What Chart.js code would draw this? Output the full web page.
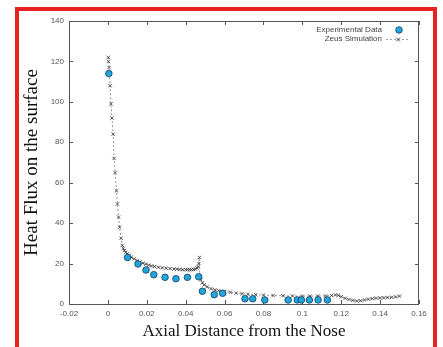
<!DOCTYPE html>
<html>
<head>
<meta charset="utf-8">
<script src="https://cdn.jsdelivr.net/npm/chart.js@4/dist/chart.umd.min.js"></script>
<style>
  html, body { margin: 0; padding: 0; background: #fff; overflow: hidden; }
  #frame {
    position: absolute; left: 15px; top: 7px; width: 422px; height: 400px;
    box-sizing: border-box; border: 4px solid #e8221e;
  }
  #c { position: absolute; left: 0; top: 0; }
</style>
</head>
<body>
<div id="frame"></div>
<canvas id="c" width="443" height="347"></canvas>
<script>
// Experimental data (circles)
const expX = [0.0005, 0.0101, 0.0155, 0.0196, 0.0236, 0.0294, 0.0350, 0.0409, 0.0467, 0.0486, 0.0547,
              0.0590, 0.0705, 0.0745, 0.0807, 0.0927, 0.0974, 0.0995, 0.1036, 0.1081, 0.1129];
const expY = [114, 23, 19.8, 16.8, 14.5, 13.2, 12.5, 13.2, 13.5, 6.3, 4.6,
              5.3, 2.6, 2.6, 2, 2, 2, 2, 2, 2, 2];

// Zeus simulation (dashed line with x markers)
const simX = [0.0002, 0.0003, 0.0006, 0.0011, 0.0016, 0.0021, 0.0027, 0.0032, 0.0037, 0.0044, 0.0049,
              0.0055, 0.0060, 0.0068, 0.0074, 0.0079, 0.0085, 0.0092, 0.0100, 0.0110, 0.0120, 0.0135,
              0.0150, 0.0165, 0.0180, 0.0195, 0.0210, 0.0225, 0.0240, 0.0260, 0.0280, 0.0300, 0.0320,
              0.0340, 0.0355, 0.0370, 0.0385, 0.0400, 0.0410, 0.0420, 0.0430, 0.0440, 0.0450, 0.0458,
              0.0464, 0.0468, 0.0470, 0.0472, 0.0478, 0.0486, 0.0495, 0.0510, 0.0530, 0.0550, 0.0570,
              0.0600, 0.0630, 0.0660, 0.0690, 0.0720, 0.0760, 0.0800, 0.0850, 0.0900, 0.0950, 0.1000,
              0.1040, 0.1080, 0.1120, 0.1150, 0.1170, 0.1185, 0.1200, 0.1220, 0.1240, 0.1260, 0.1280,
              0.1300, 0.1320, 0.1340, 0.1360, 0.1380, 0.1400, 0.1420, 0.1440, 0.1460, 0.1480, 0.1500];
const simY = [122, 120, 117, 108, 99, 92, 84, 72, 65, 56, 49.5,
              43, 38, 32.5, 29, 27.5, 26.5, 25.5, 24.8, 24, 23.2, 22.3,
              21.5, 20.8, 20.2, 19.7, 19.2, 18.8, 18.5, 18.2, 17.9, 17.7, 17.5,
              17.3, 17.2, 17.1, 17.0, 17.0, 17.0, 17.0, 17.0, 17.1, 17.3, 17.8,
              18.5, 20, 23, 14, 12, 10.5, 9.5, 8.5, 7.6, 7, 6.6,
              6.2, 5.8, 5.4, 5.1, 4.8, 4.6, 4.4, 4.2, 4.1, 4.0, 3.9,
              3.9, 3.9, 4.0, 4.2, 4.5, 4.3, 3.6, 2.8, 2.2, 1.8, 1.5,
              1.6, 2.0, 2.4, 2.7, 2.9, 3.0, 3.1, 3.2, 3.3, 3.5, 3.9];

// Axis ticks
const xTickVals = [-0.02, 0, 0.02, 0.04, 0.06, 0.08, 0.1, 0.12, 0.14, 0.16];
const xTickLabels = ["-0.02", "0", "0.02", "0.04", "0.06", "0.08", "0.1", "0.12", "0.14", "0.16"];
const yTickVals = [0, 20, 40, 60, 80, 100, 120, 140];
const yTickLabels = ["0", "20", "40", "60", "80", "100", "120", "140"];

const expLabel = "Experimental Data";
const simLabel = "Zeus Simulation";
const xTitle = "Axial Distance from the Nose";
const yTitle = "Heat Flux on the surface";

const ptFill = "#1fa6dc";
const ptEdge = "#1b3d5c";
const simColor = "#333";
const axisColor = "#555";
const tickFont = { family: "'Liberation Sans', Arial, sans-serif", size: 8 };

// gnuplot-style box with inward, mirrored ticks + legend
const gnuplotFrame = {
  id: "gnuplotFrame",
  beforeDatasetsDraw(chart) {
    const { ctx, chartArea: a, scales } = chart;
    ctx.save();
    ctx.strokeStyle = axisColor;
    ctx.lineWidth = 1;
    ctx.strokeRect(a.left + 0.5, a.top + 0.5, a.right - a.left - 1, a.bottom - a.top);
    ctx.beginPath();
    xTickVals.forEach(v => {
      const px = Math.round(scales.x.getPixelForValue(v)) + 0.5;
      ctx.moveTo(px, a.bottom); ctx.lineTo(px, a.bottom - 4);
      ctx.moveTo(px, a.top); ctx.lineTo(px, a.top + 4);
    });
    yTickVals.forEach(v => {
      const py = Math.round(scales.y.getPixelForValue(v)) + 0.5;
      ctx.moveTo(a.left, py); ctx.lineTo(a.left + 4, py);
      ctx.moveTo(a.right, py); ctx.lineTo(a.right - 4, py);
    });
    ctx.stroke();
    ctx.restore();
  },
  afterDraw(chart) {
    const { ctx } = chart;
    ctx.save();
    ctx.font = "8px 'Liberation Sans', Arial, sans-serif";
    ctx.fillStyle = "#444";
    ctx.textAlign = "right";
    ctx.textBaseline = "middle";
    ctx.fillText(expLabel, 382, 30);
    ctx.fillText(simLabel, 382, 39);
    // circle sample
    ctx.beginPath();
    ctx.arc(399, 30, 3.3, 0, Math.PI * 2);
    ctx.fillStyle = ptFill; ctx.fill();
    ctx.lineWidth = 0.8; ctx.strokeStyle = ptEdge; ctx.stroke();
    // line sample
    ctx.beginPath();
    ctx.setLineDash([2, 2]);
    ctx.strokeStyle = "#888"; ctx.lineWidth = 0.8;
    ctx.moveTo(386, 39.5); ctx.lineTo(410, 39.5); ctx.stroke();
    ctx.setLineDash([]);
    ctx.beginPath();
    ctx.strokeStyle = simColor;
    ctx.moveTo(396, 37.5); ctx.lineTo(400, 41.5);
    ctx.moveTo(400, 37.5); ctx.lineTo(396, 41.5);
    ctx.stroke();
    ctx.restore();
  }
};

new Chart(document.getElementById("c").getContext("2d"), {
  type: "scatter",
  data: {
    datasets: [
      {
        label: expLabel,
        data: expX.map((x, i) => ({ x, y: expY[i] })),
        pointStyle: "circle",
        pointRadius: 3.3,
        pointBackgroundColor: ptFill,
        pointBorderColor: ptEdge,
        pointBorderWidth: 0.8,
        showLine: false
      },
      {
        label: simLabel,
        data: simX.map((x, i) => ({ x, y: simY[i] })),
        showLine: true,
        borderColor: "#777",
        borderWidth: 0.8,
        borderDash: [2, 2],
        pointStyle: "crossRot",
        pointRadius: 2.4,
        pointBorderColor: simColor,
        pointBorderWidth: 0.8,
        tension: 0
      }
    ]
  },
  options: {
    responsive: false,
    animation: false,
    devicePixelRatio: 1,
    layout: { padding: { left: 0, top: 21, right: 24, bottom: 0 } },
    plugins: { legend: { display: false }, tooltip: { enabled: false } },
    scales: {
      x: {
        type: "linear",
        min: -0.02, max: 0.16,
        afterBuildTicks: s => { s.ticks = xTickVals.map(v => ({ value: v })); },
        afterFit: s => { s.height = 43; },
        grid: { display: false, drawTicks: false },
        border: { display: false },
        ticks: {
          padding: 5, color: "#555", font: tickFont, maxRotation: 0, autoSkip: false,
          callback: (v, i) => xTickLabels[i]
        },
        title: {
          display: true, text: xTitle, color: "#111",
          font: { family: "'Liberation Serif', 'Times New Roman', serif", size: 17 },
          padding: { top: 0, bottom: 5 }
        }
      },
      y: {
        type: "linear",
        min: 0, max: 140,
        afterBuildTicks: s => { s.ticks = yTickVals.map(v => ({ value: v })); },
        afterFit: s => { s.width = 69; },
        grid: { display: false, drawTicks: false },
        border: { display: false },
        ticks: {
          padding: 5, color: "#555", font: tickFont, autoSkip: false,
          callback: (v, i) => yTickLabels[i]
        },
        title: {
          display: true, text: yTitle, color: "#111",
          font: { family: "'Liberation Serif', 'Times New Roman', serif", size: 19 },
          padding: { top: 21, bottom: 0 }
        }
      }
    }
  },
  plugins: [gnuplotFrame]
});
</script>
</body>
</html>
